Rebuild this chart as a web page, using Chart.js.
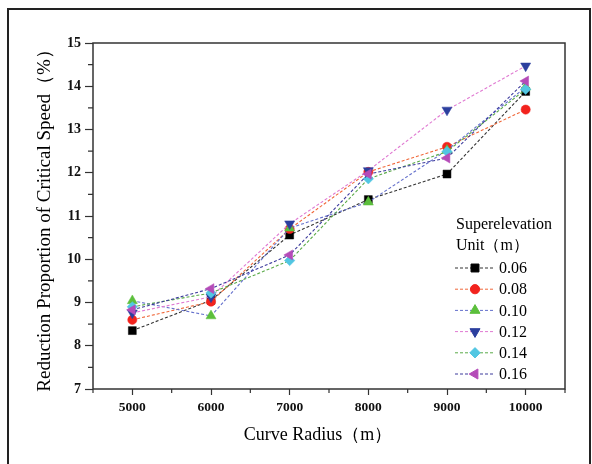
<!DOCTYPE html>
<html><head><meta charset="utf-8">
<script src="https://cdn.jsdelivr.net/npm/chart.js@4"></script>
<style>html,body{margin:0;padding:0;background:#fff;}</style>
</head><body>
<canvas id="c" width="592" height="464"></canvas>
<script>
// ---- data ----
const radii = [5000, 6000, 7000, 8000, 9000, 10000];
const seriesLabels = ['0.06', '0.08', '0.10', '0.12', '0.14', '0.16'];
const s006 = [8.35, 9.05, 10.56, 11.38, 11.97, 13.88];
const s008 = [8.60, 9.02, 10.70, 12.02, 12.60, 13.46];
const s010 = [9.04, 8.69, 10.72, 11.32, 12.52, 13.98];
const s012 = [8.76, 9.13, 10.82, 12.05, 13.45, 14.47];
const s014 = [8.90, 9.22, 9.97, 11.86, 12.49, 13.93];
const s016 = [8.83, 9.32, 10.10, 11.97, 12.34, 14.12];
const xTicks = [5000, 6000, 7000, 8000, 9000, 10000];
const xMinorTicks = [4500, 5500, 6500, 7500, 8500, 9500, 10500];
const yTicks = [7, 8, 9, 10, 11, 12, 13, 14, 15];
const yMinorTicks = [7.5, 8.5, 9.5, 10.5, 11.5, 12.5, 13.5, 14.5];
const xTitle = 'Curve Radius（m）';
const yTitle = 'Reduction Proportion of Critical Speed（%）';
const legendTitle = ['Superelevation', 'Unit（m）'];

const allSeries = [s006, s008, s010, s012, s014, s016];
const markerColors = ['#000000', '#f2231e', '#5cbf3c', '#2c3f9e', '#52c6e2', '#b54bb8'];
const lineColors = ['#333333', '#f0683a', '#6470cc', '#e07ad2', '#5aaa48', '#3c3a9c'];
const pointStyles = ['rect', 'circle', 'triangle', 'triangle', 'rectRot', 'triangle'];
const rotations = [0, 0, 0, 180, 0, 270];
const radiusList = [5.6, 4.6, 5.8, 5.8, 5.2, 5.8];

const FONT = "'Liberation Serif', 'Times New Roman', serif";

const datasets = allSeries.map((vals, i) => ({
  label: seriesLabels[i],
  data: radii.map((r, k) => ({ x: r, y: vals[k] })),
  borderColor: lineColors[i],
  borderWidth: 1.1,
  borderDash: [3, 2],
  backgroundColor: markerColors[i],
  pointBackgroundColor: markerColors[i],
  pointBorderColor: markerColors[i],
  pointBorderWidth: 0.5,
  pointStyle: pointStyles[i],
  pointRotation: rotations[i],
  pointRadius: radiusList[i],
  tension: 0,
  fill: false,
  order: 5 - i
}));

const framePlugin = {
  id: 'framePlugin',
  afterDraw(chart) {
    const ctx = chart.ctx;
    const a = chart.chartArea;
    const xs = chart.scales.x, ys = chart.scales.y;
    ctx.save();
    ctx.strokeStyle = '#333';
    ctx.lineWidth = 1.5;
    ctx.strokeRect(a.left, a.top, a.right - a.left, a.bottom - a.top);
    ctx.lineWidth = 1.2;
    ctx.beginPath();
    xMinorTicks.forEach(v => {
      const px = xs.getPixelForValue(v);
      ctx.moveTo(px, a.bottom); ctx.lineTo(px, a.bottom + 4);
    });
    yMinorTicks.forEach(v => {
      const py = ys.getPixelForValue(v);
      ctx.moveTo(a.left, py); ctx.lineTo(a.left - 5, py);
    });
    ctx.stroke();
    // x axis title
    ctx.fillStyle = '#000';
    ctx.font = '18px ' + FONT;
    ctx.textAlign = 'center';
    ctx.textBaseline = 'middle';
    ctx.fillText(xTitle, (a.left + a.right) / 2 - 11, 435);
    // outer frame
    ctx.strokeStyle = '#222';
    ctx.lineWidth = 2;
    ctx.strokeRect(8, 9, 582, 470);
    ctx.restore();
  }
};

const legendPlugin = {
  id: 'insideLegend',
  afterDatasetsDraw(chart) {
    const ctx = chart.ctx;
    ctx.save();
    ctx.fillStyle = '#000';
    ctx.font = '16px ' + FONT;
    ctx.textBaseline = 'middle';
    ctx.textAlign = 'left';
    ctx.fillText(legendTitle[0], 456, 225);
    ctx.fillText(legendTitle[1], 456, 246);
    chart.data.datasets.forEach((ds, i) => {
      const y = 268 + i * 21.2;
      ctx.strokeStyle = ds.borderColor;
      ctx.lineWidth = 1;
      ctx.setLineDash([3, 2]);
      ctx.beginPath();
      ctx.moveTo(455, y); ctx.lineTo(494, y);
      ctx.stroke();
      ctx.setLineDash([]);
      ctx.fillStyle = ds.pointBackgroundColor;
      ctx.strokeStyle = ds.pointBorderColor;
      Chart.helpers.drawPoint(ctx, {
        pointStyle: ds.pointStyle, rotation: ds.pointRotation,
        radius: ds.pointRadius, borderWidth: 0.5
      }, 475, y);
      ctx.fillStyle = '#000';
      ctx.font = '16px ' + FONT;
      ctx.fillText(ds.label, 499, y + 1);
    });
    ctx.restore();
  }
};

new Chart(document.getElementById('c'), {
  type: 'line',
  data: { datasets },
  options: {
    responsive: false,
    devicePixelRatio: 1,
    animation: false,
    layout: { padding: { top: 43, right: 27, left: 0, bottom: 0 } },
    plugins: { legend: { display: false }, tooltip: { enabled: false } },
    scales: {
      x: {
        type: 'linear', min: 4500, max: 10500,
        afterBuildTicks: s => { s.ticks = xTicks.map(v => ({ value: v })); },
        afterFit: s => { s.height = 75; },
        grid: { drawOnChartArea: false, tickLength: 6, tickColor: '#333', tickWidth: 1.2 },
        border: { display: false },
        ticks: { font: { family: FONT, size: 13.5, weight: 'bold' }, color: '#111', padding: 4,
                 maxRotation: 0, autoSkip: false, callback: v => String(v) },
        title: { display: false }
      },
      y: {
        type: 'linear', min: 7, max: 15,
        afterBuildTicks: s => { s.ticks = yTicks.map(v => ({ value: v })); },
        afterFit: s => { s.width = 93; },
        grid: { drawOnChartArea: false, tickLength: 8, tickColor: '#333', tickWidth: 1.2 },
        border: { display: false },
        ticks: { font: { family: FONT, size: 14, weight: 'bold' }, color: '#111', padding: 4,
                 autoSkip: false, callback: v => String(v) },
        title: { display: true, text: yTitle, font: { family: FONT, size: 19 }, color: '#000',
                 padding: { top: 34, bottom: 0 } }
      }
    }
  },
  plugins: [framePlugin, legendPlugin]
});
</script>
</body></html>
